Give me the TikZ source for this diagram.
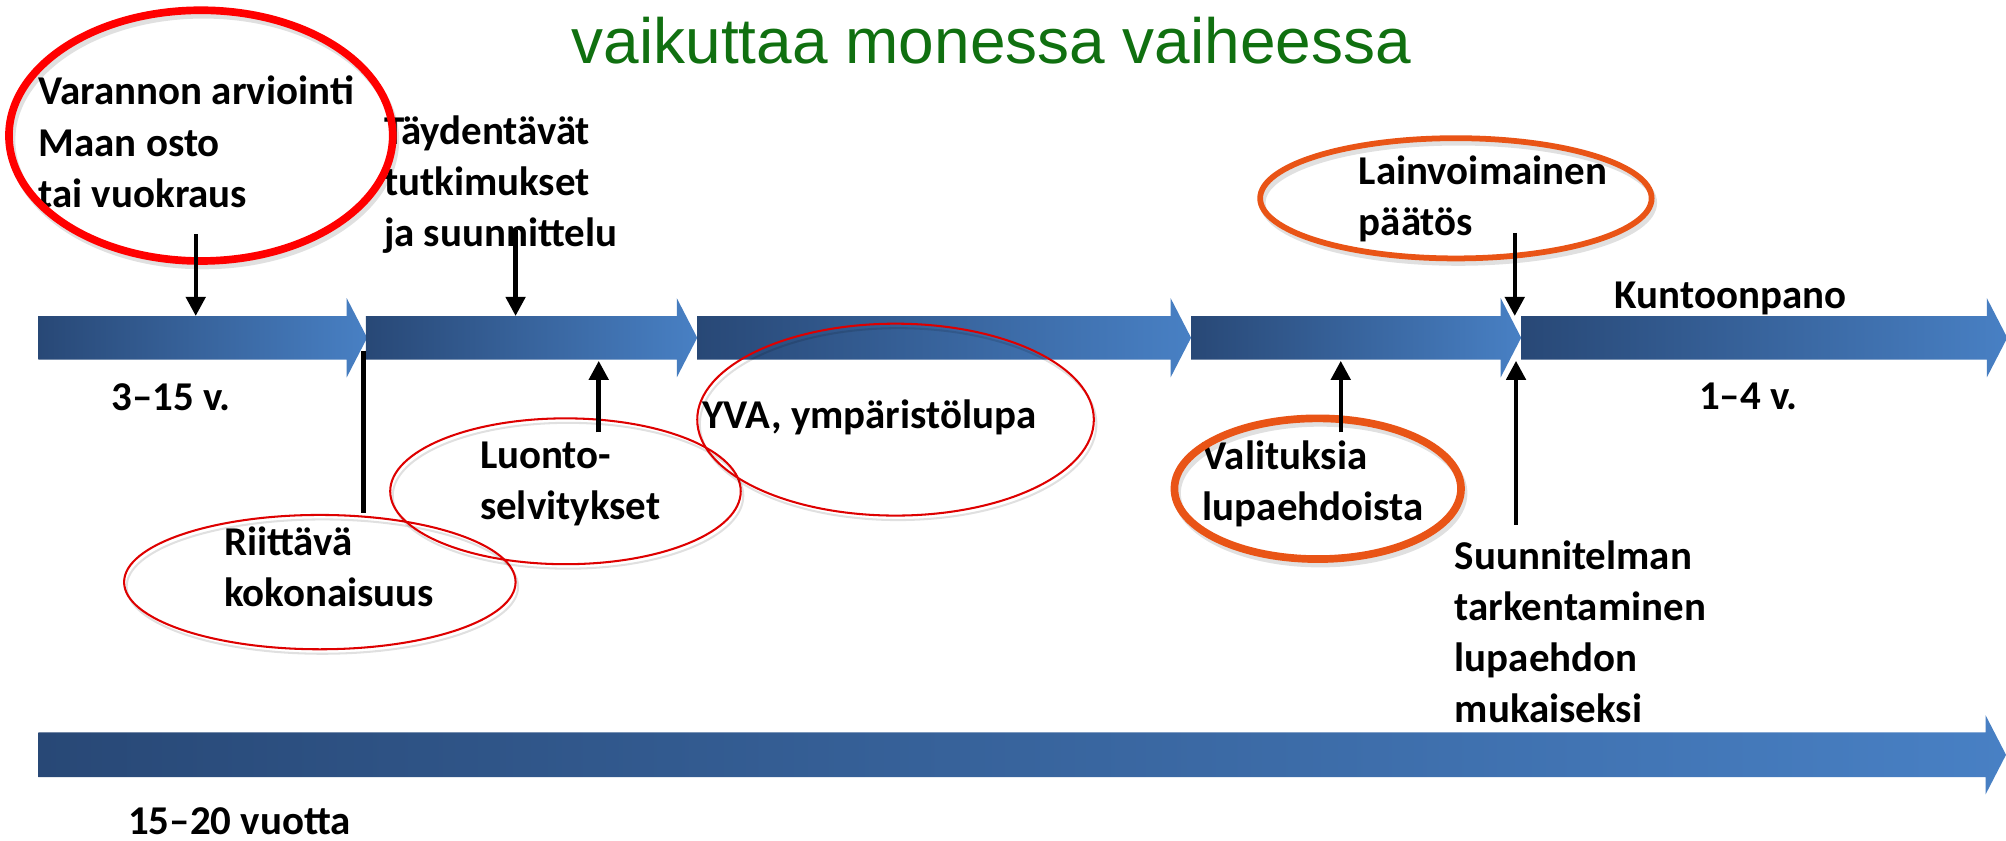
\documentclass[tikz,border=0pt]{standalone}
\usepackage{fontspec}
\setmainfont{Carlito}
\newfontfamily\titlefont{Liberation Sans}
\usetikzlibrary{shapes.geometric,arrows.meta}
\definecolor{navy}{RGB}{40,72,118}
\definecolor{lblue}{RGB}{72,128,196}
\definecolor{ttl}{RGB}{16,112,16}
\definecolor{ored}{RGB}{233,84,22}
\definecolor{ered}{RGB}{222,0,0}
\newcommand{\mlines}[1]{\begin{tabular}[t]{@{}l@{}}#1\end{tabular}}
% x1, head base x, y centre, bar half height
\newcommand{\blockarrow}[4]{%
  \shade[left color=navy,right color=lblue]
    (#1,{#3-#4}) -- (#2,{#3-#4}) -- (#2,{#3-31}) -- ({#2+16},#3) --
    (#2,{#3+31}) -- (#2,{#3+#4}) -- (#1,{#3+#4}) -- cycle;}
% name, style, width, height, x, y : ellipse with a faint shadow
\newcommand{\ringnode}[6]{%
  \node[#2,minimum width=#3pt,minimum height=#4pt,draw=black,opacity=0.12,
        xshift=2pt,yshift=-3.5pt] at (#5,#6) {};
  \node[#2,minimum width=#3pt,minimum height=#4pt] (#1) at (#5,#6) {};}
\begin{document}
\begin{tikzpicture}[x=1pt,y=-1pt,
  lbl/.style={anchor=base west,inner sep=0pt,font=\bfseries\fontsize{32}{40}\selectfont},
  bigred/.style={ellipse,draw=red,line width=6pt,inner sep=0pt},
  thinred/.style={ellipse,draw=ered,line width=1.6pt,inner sep=0pt},
  thickor/.style={ellipse,draw=ored,line width=6pt,inner sep=0pt},
  medor/.style={ellipse,draw=ored,line width=4.5pt,inner sep=0pt},
  conn/.style={line width=3.5pt,-{Triangle[length=15pt,width=15pt]}},
  plainline/.style={line width=3.5pt}]
\useasboundingbox (0,0) rectangle (1568,657);
\fill[white] (0,0) rectangle (1568,657);

% timeline arrows
\blockarrow{30}{271}{264}{17}
\blockarrow{286}{529}{264}{17}
\blockarrow{545}{915}{264}{17}
\blockarrow{931}{1173}{264}{17}
\blockarrow{1189}{1553}{264}{17}
\blockarrow{30}{1552}{590}{17.5}

% title
\node[anchor=base,inner sep=0pt,font=\titlefont\fontsize{50}{60}\selectfont,text=ttl]
  (title) at (775,50) {vaikuttaa monessa vaiheessa};

% texts
\node[lbl] (t1) at (30,82) {\mlines{Varannon arviointi\\Maan osto\\tai vuokraus}};
\node[lbl] (t2) at (300,113) {\mlines{Täydentävät\\tutkimukset\\ja suunnittelu}};
\node[lbl] (t3) at (87,321) {3–15 v.};
\node[lbl] (t4) at (375,366) {\mlines{Luonto-\\selvitykset}};
\node[lbl] (t5) at (175,434) {\mlines{Riittävä\\kokonaisuus}};
\node[lbl] (t6) at (100,652) {15–20 vuotta};
\node[lbl] (t7) at (549,335) {YVA, ympäristölupa};
\node[lbl] (t8) at (940,367) {\mlines{Valituksia\\lupaehdoista}};
\node[lbl] (t9) at (1062,144) {\mlines{Lainvoimainen\\päätös}};
\node[lbl] (t10) at (1262,241) {Kuntoonpano};
\node[lbl] (t11) at (1328,320) {1–4 v.};
\node[lbl] (t12) at (1137,445) {\mlines{Suunnitelman\\tarkentaminen\\lupaehdon\\mukaiseksi}};

% ellipses
\ringnode{e1}{bigred}{300}{196}{157}{106}
\ringnode{e2}{thinred}{306}{105}{250}{455}
\ringnode{e3}{thinred}{274}{114}{442}{384}
\ringnode{e4}{thinred}{310}{150}{700}{328}
\ringnode{e5}{medor}{306}{94}{1138}{155}
\ringnode{e6}{thickor}{224}{110}{1030}{382}

% connector end points
\coordinate (a1s) at (153,183);  \coordinate (a1e) at (153,247);
\coordinate (a2s) at (403,180);  \coordinate (a2e) at (403,247);
\coordinate (a3s) at (284,274);  \coordinate (a3e) at (284,401);
\coordinate (a4s) at (468,338);  \coordinate (a4e) at (468,282);
\coordinate (a5s) at (1048,338); \coordinate (a5e) at (1048,282);
\coordinate (a6s) at (1184,182); \coordinate (a6e) at (1184,247);
\coordinate (a7s) at (1185,410); \coordinate (a7e) at (1185,282);

\draw[conn] (a1s) -- (a1e);
\draw[conn] (a2s) -- (a2e);
\draw[plainline] (a3s) -- (a3e);
\draw[conn] (a4s) -- (a4e);
\draw[conn] (a5s) -- (a5e);
\draw[conn] (a6s) -- (a6e);
\draw[conn] (a7s) -- (a7e);
\end{tikzpicture}
\end{document}
